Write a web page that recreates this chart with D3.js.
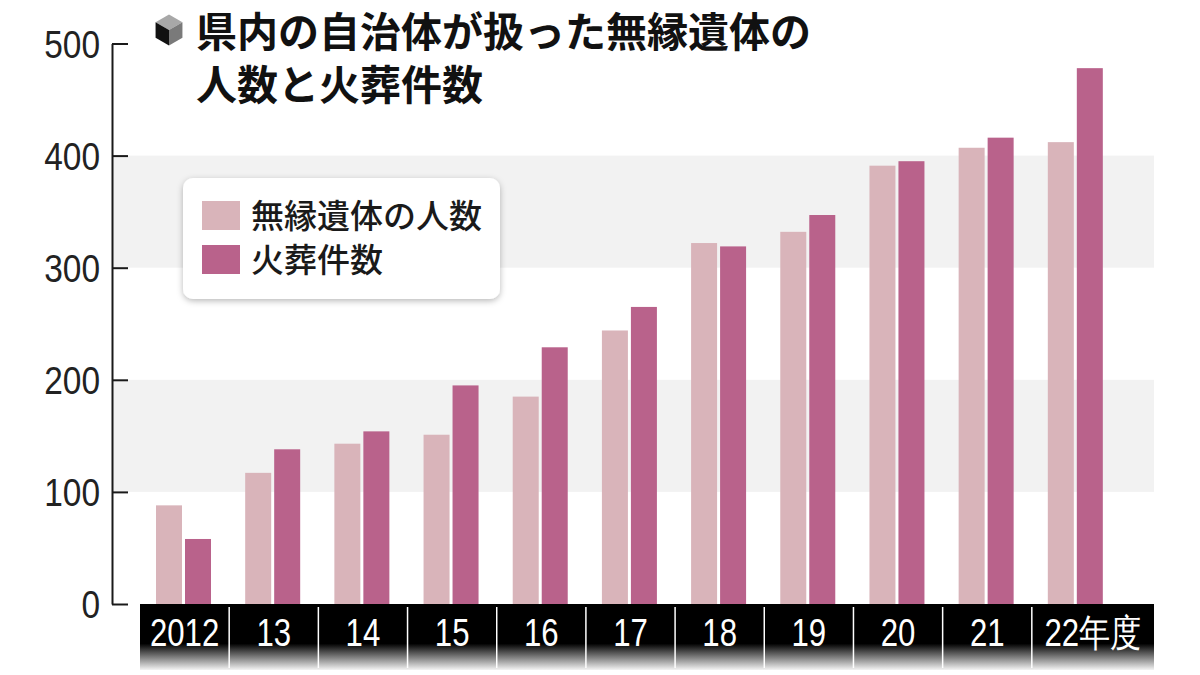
<!DOCTYPE html>
<html>
<head>
<meta charset="utf-8">
<script src="https://cdn.jsdelivr.net/npm/d3@7"></script>
<style>
  html, body { margin: 0; padding: 0; background: #fff; }
  svg { display: block; }
</style>
</head>
<body>
<div id="chart"></div>
<script>
// data
const categories = ['2012', '13', '14', '15', '16', '17', '18', '19', '20', '21', '22年度'];
const seriesNames = ['無縁遺体の人数', '火葬件数'];
const unclaimedBodies = [88, 117, 143, 151, 185, 244, 322, 332, 391, 407, 412];
const cremations = [58, 138, 154, 195, 229, 265, 319, 347, 395, 416, 478];
const yTicks = [0, 100, 200, 300, 400, 500];
const shadedBands = [[100, 200], [300, 400]];
const titleLines = ['県内の自治体が扱った無縁遺体の', '人数と火葬件数'];

const COLORS = {
  light: '#d9b4ba',
  dark: '#b9628b',
  axis: '#1a1a1a',
  band: '#f2f2f2',
};

const W = 1200, H = 675;
const axisX = 112;
const plotTop = 43.5, plotBottom = 604;
const catLeft = 140, catRight = 1121, labelRight = 1154;
const numFont = '"Liberation Sans", Arial, sans-serif';
const jpFont = '"Noto Sans CJK JP", "Noto Sans", sans-serif';

// squeeze a text horizontally, the reference uses a condensed face
function condense(sel, k) {
  sel.each(function () {
    const w = this.getComputedTextLength();
    d3.select(this).attr('textLength', w * k).attr('lengthAdjust', 'spacingAndGlyphs');
  });
}

const svg = d3.select('#chart').append('svg')
  .attr('width', W).attr('height', H)
  .attr('viewBox', `0 0 ${W} ${H}`);

const defs = svg.append('defs');
const grad = defs.append('linearGradient')
  .attr('id', 'labelFade').attr('x1', 0).attr('y1', 0).attr('x2', 0).attr('y2', 1);
grad.append('stop').attr('offset', '0%').attr('stop-color', '#000');
grad.append('stop').attr('offset', '60%').attr('stop-color', '#000');
grad.append('stop').attr('offset', '100%').attr('stop-color', '#f4f4f4');

const shadow = defs.append('filter').attr('id', 'legendShadow')
  .attr('x', '-10%').attr('y', '-10%').attr('width', '120%').attr('height', '130%');
shadow.append('feDropShadow')
  .attr('dx', 0).attr('dy', 2).attr('stdDeviation', 3)
  .attr('flood-color', '#000').attr('flood-opacity', 0.28);

const y = d3.scaleLinear().domain([0, 500]).range([plotBottom, plotTop]);
const x0 = d3.scaleBand().domain(categories).range([catLeft, catRight]).padding(0);
const x1 = d3.scaleBand().domain(seriesNames).range([16, 71]).paddingInner(3 / 29);

// shaded bands
svg.append('g').selectAll('rect')
  .data(shadedBands)
  .join('rect')
  .attr('x', axisX)
  .attr('width', labelRight - axisX)
  .attr('y', d => y(d[1]))
  .attr('height', d => y(d[0]) - y(d[1]))
  .attr('fill', COLORS.band);

// bars
const rows = categories.map((c, i) => ({ cat: c, values: [unclaimedBodies[i], cremations[i]] }));
const barColor = d3.scaleOrdinal().domain(seriesNames).range([COLORS.light, COLORS.dark]);

svg.append('g').selectAll('g')
  .data(rows)
  .join('g')
  .attr('transform', d => `translate(${x0(d.cat)},0)`)
  .selectAll('rect')
  .data(d => seriesNames.map((s, j) => ({ s, v: d.values[j] })))
  .join('rect')
  .attr('x', d => x1(d.s))
  .attr('width', x1.bandwidth())
  .attr('y', d => y(d.v))
  .attr('height', d => y(0) - y(d.v))
  .attr('fill', d => barColor(d.s));

// category label strip
const strip = svg.append('g');
strip.append('rect')
  .attr('x', catLeft).attr('y', plotBottom)
  .attr('width', labelRight - catLeft).attr('height', 66)
  .attr('fill', 'url(#labelFade)');

strip.selectAll('line')
  .data(categories.slice(1))
  .join('line')
  .attr('x1', d => x0(d)).attr('x2', d => x0(d))
  .attr('y1', plotBottom + 3).attr('y2', plotBottom + 64)
  .attr('stroke', '#fff').attr('stroke-width', 1.5);

const lastCat = categories[categories.length - 1];
strip.selectAll('text')
  .data(categories)
  .join('text')
  .attr('x', d => {
    const left = x0(d);
    const right = d === lastCat ? labelRight : left + x0.bandwidth();
    return (left + right) / 2;
  })
  .attr('y', plotBottom + 42)
  .attr('text-anchor', 'middle')
  .attr('fill', '#fff')
  .style('font-family', numFont)
  .style('font-size', '38px')
  .text(d => d)
  .call(condense, 0.82);

// y axis
const yAxis = svg.append('g')
  .attr('transform', `translate(${axisX},0)`)
  .call(d3.axisLeft(y).tickValues(yTicks).tickSize(-16).tickSizeOuter(0).tickPadding(12));
yAxis.select('.domain').attr('stroke', COLORS.axis).attr('stroke-width', 2);
yAxis.selectAll('.tick line').attr('stroke', COLORS.axis).attr('stroke-width', 2);
yAxis.selectAll('.tick text')
  .attr('fill', '#222')
  .attr('dy', '0.36em')
  .style('font-family', numFont)
  .style('font-size', '38px')
  .call(condense, 0.88);

// title with cube icon
const icon = svg.append('g').attr('transform', 'translate(169,30)');
const r = 15.5;
const hx = r * Math.cos(Math.PI / 6), hy = r / 2;
icon.append('path')
  .attr('d', `M0,${-r} L${hx},${-hy} L0,0 L${-hx},${-hy} Z`)
  .attr('fill', '#a8a8a8');
icon.append('path')
  .attr('d', `M${-hx},${-hy} L0,0 L0,${r} L${-hx},${hy} Z`)
  .attr('fill', '#111');
icon.append('path')
  .attr('d', `M${hx},${-hy} L0,0 L0,${r} L${hx},${hy} Z`)
  .attr('fill', '#7a7a7a');

svg.append('text')
  .attr('fill', '#111')
  .style('font-family', jpFont)
  .style('font-weight', 700)
  .style('font-size', '41px')
  .selectAll('tspan')
  .data(titleLines)
  .join('tspan')
  .attr('x', 196)
  .attr('y', (d, i) => 47 + i * 53)
  .text(d => d);

// legend
const legend = svg.append('g').attr('transform', 'translate(183,178)');
legend.append('rect')
  .attr('width', 317).attr('height', 121).attr('rx', 10)
  .attr('fill', '#fff')
  .attr('filter', 'url(#legendShadow)');

const legendItem = legend.selectAll('g.item')
  .data(seriesNames)
  .join('g')
  .attr('class', 'item')
  .attr('transform', (d, i) => `translate(19,${23 + i * 44})`);
legendItem.append('rect')
  .attr('width', 38).attr('height', 29)
  .attr('fill', d => barColor(d));
legendItem.append('text')
  .attr('x', 49).attr('y', 27)
  .attr('fill', '#1a1a1a')
  .style('font-family', jpFont)
  .style('font-weight', 500)
  .style('font-size', '33px')
  .text(d => d);
</script>
</body>
</html>
